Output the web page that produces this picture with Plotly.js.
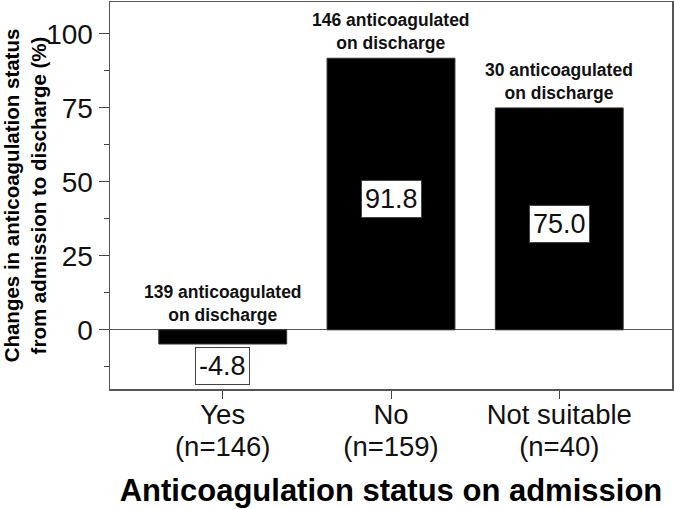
<!DOCTYPE html>
<html>
<head>
<meta charset="utf-8">
<script src="https://cdn.plot.ly/plotly-3.0.1.min.js"></script>
<style>html,body{margin:0;padding:0;background:#fff;}#chart{width:674px;height:509px;}</style>
</head>
<body>
<div id="chart"></div>
<script>
var categories = ['Yes', 'No', 'Not suitable'];
var groupSizes = [146, 159, 40];
var changePct = [-4.8, 91.8, 75.0];
var anticoagulatedOnDischarge = [139, 146, 30];

var nText = groupSizes.map(function (n) { return '(n=' + n + ')'; });
var FONT = '"Liberation Sans", Arial, sans-serif';

var trace = {
  type: 'bar',
  x: categories,
  y: changePct,
  width: 0.76,
  marker: { color: '#000000', line: { color: '#333333', width: 1 } },
  hoverinfo: 'none'
};

var annotations = [];
categories.forEach(function (c, i) {
  var v = changePct[i];
  annotations.push({
    x: c, y: Math.max(v, 0), xref: 'x', yref: 'y',
    text: anticoagulatedOnDischarge[i] + ' anticoagulated<br>on discharge',
    showarrow: false, yanchor: 'bottom', yshift: 3,
    font: { family: FONT, size: 17.5, color: '#111', weight: 'bold' }
  });
  var lbl = {
    x: c, xref: 'x', yref: 'y',
    text: v.toFixed(1),
    showarrow: false,
    bgcolor: '#ffffff', bordercolor: '#444', borderwidth: 1, borderpad: 3,
    font: { family: FONT, size: 27, color: '#111' }
  };
  if (v >= 0) { lbl.y = v / 2; lbl.yanchor = 'middle'; lbl.yshift = -5; }
  else { lbl.y = v; lbl.yanchor = 'top'; lbl.yshift = -3; }
  annotations.push(lbl);
});

// plot region: top 2 .. bottom 449 (height 447); y-axis domain bottom at pixel 389
var H = 447;
var layout = {
  width: 674, height: 509,
  margin: { l: 110, r: 2, t: 2, b: 60 },
  paper_bgcolor: '#ffffff', plot_bgcolor: '#ffffff',
  showlegend: false,
  font: { family: FONT, color: '#111' },
  xaxis: {
    type: 'category',
    range: [-0.67, 2.67],
    anchor: 'y',
    tickmode: 'array', tickvals: categories, ticktext: categories,
    ticks: 'outside', ticklen: 8, tickcolor: '#444', tickwidth: 1,
    ticklabelstandoff: -8,
    showline: true, linecolor: '#555', linewidth: 1.5, mirror: true,
    showgrid: false,
    tickfont: { family: FONT, size: 27.5, color: '#111' }
  },
  xaxis2: {
    type: 'category',
    overlaying: 'x',
    matches: 'x',
    range: [-0.67, 2.67],
    anchor: 'free', position: (449 - 427) / H, side: 'bottom',
    tickmode: 'array', tickvals: categories, ticktext: nText,
    ticks: '', showline: false, showgrid: false, zeroline: false,
    tickfont: { family: FONT, size: 27.5, color: '#111' },
    title: { text: 'Anticoagulation status on admission', font: { family: FONT, size: 31, color: '#000', weight: 'bold' }, standoff: 18 }
  },
  yaxis: {
    domain: [(449 - 389) / H, 1],
    range: [-20, 110.8],
    tickmode: 'array', tickvals: [0, 25, 50, 75, 100],
    ticks: 'outside', ticklen: 10, tickcolor: '#444', tickwidth: 1,
    minor: { dtick: 12.5, tick0: 0, ticks: 'outside', ticklen: 5, tickcolor: '#444', showgrid: false },
    showline: true, linecolor: '#555', linewidth: 1.5, mirror: true,
    showgrid: false,
    zeroline: true, zerolinecolor: '#555', zerolinewidth: 1,
    tickfont: { family: FONT, size: 28, color: '#111' },
    title: { text: 'Changes in anticoagulation status<br>from admission to discharge (%)', font: { family: FONT, size: 20.5, color: '#000', weight: 'bold' }, standoff: 4 }
  },
  annotations: annotations
};

var trace2 = { type: 'bar', x: categories, y: [null, null, null], xaxis: 'x2', yaxis: 'y', hoverinfo: 'none', showlegend: false };

Plotly.newPlot('chart', [trace, trace2], layout, { displayModeBar: false, staticPlot: true });
</script>
</body>
</html>
